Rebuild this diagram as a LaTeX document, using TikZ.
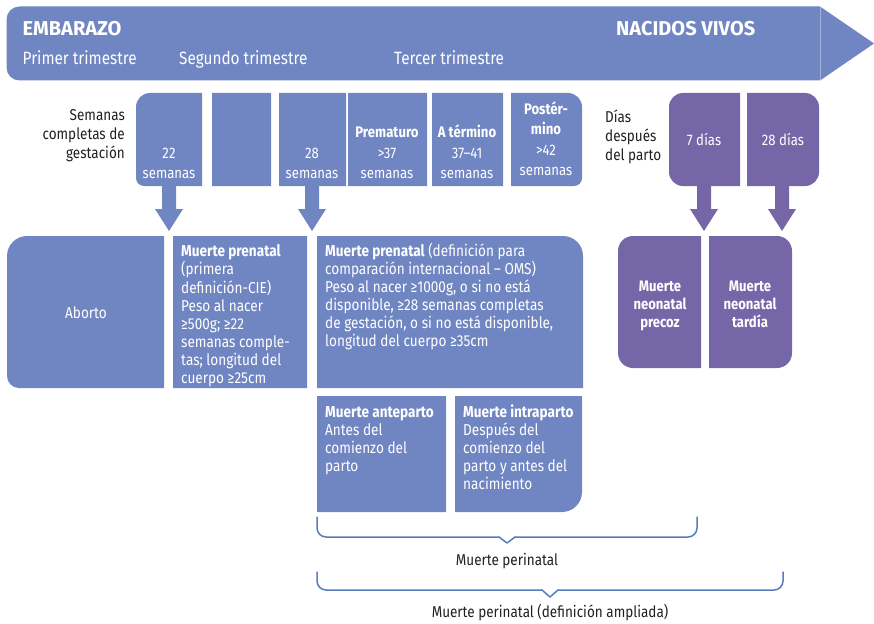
\documentclass[tikz,border=0pt]{standalone}
\usepackage{fontspec}
\setmainfont[FakeStretch=0.86]{Fira Sans}
\newfontfamily\firawide{Fira Sans}
\definecolor{bl}{RGB}{112,134,194}
\definecolor{pu}{RGB}{117,102,167}
\definecolor{brc}{RGB}{88,124,192}
\definecolor{tx}{RGB}{35,31,32}
\newcommand\lft[1]{\begin{tabular}[t]{@{}l@{}}#1\end{tabular}}
\newcommand\ctr[1]{\begin{tabular}[t]{@{}c@{}}#1\end{tabular}}
\newcommand\rgt[1]{\begin{tabular}[t]{@{}r@{}}#1\end{tabular}}
% colour, x0, y0, x1, y1, rTL, rTR, rBR, rBL
\newcommand\rbx[9]{\fill[#1] (#2,{#3+#6}) .. controls (#2,{#3+0.448*#6}) and ({#2+0.448*#6},#3) .. ({#2+#6},#3) -- ({#4-#7},#3) .. controls ({#4-0.448*#7},#3) and (#4,{#3+0.448*#7}) .. (#4,{#3+#7}) -- (#4,{#5-#8}) .. controls (#4,{#5-0.448*#8}) and ({#4-0.448*#8},#5) .. ({#4-#8},#5) -- ({#2+#9},#5) .. controls ({#2+0.448*#9},#5) and (#2,{#5-0.448*#9}) .. (#2,{#5-#9}) -- cycle;}
% colour, cx, ytop, yhead, ytip
\newcommand\barrow[5]{\fill[#1] ({#2-7},#3) -- ({#2+7},#3) -- ({#2+7},#4) -- ({#2+14},#4) -- (#2,#5) -- ({#2-14},#4) -- ({#2-7},#4) -- cycle;}
\begin{document}
\begin{tikzpicture}[x=1pt,y=-1pt,
  wt/.style={text=white, inner sep=0pt, font=\fontsize{15.8}{18}\selectfont},
  wt2/.style={text=white, inner sep=0pt, font=\fontsize{15.3}{20}\selectfont},
  ban/.style={text=white, inner sep=0pt, font=\fontsize{17.8}{20}\selectfont},
  banb/.style={text=white, inner sep=0pt, font=\firawide\bfseries\fontsize{20}{22}\selectfont},
  dk/.style={text=tx, inner sep=0pt, font=\fontsize{15.7}{19}\selectfont},
  brace/.style={draw=brc, line width=1.5pt, line cap=round, line join=round}]
\useasboundingbox (0,0) rectangle (874,623);
% banner
\rbx{bl}{6.5}{6.5}{820}{80.5}{13}{0}{0}{13}
\fill[bl] (820,6.5) -- (874,43.5) -- (820,80.5) -- cycle;
\draw[white, opacity=.35, line width=0.8pt] (820,6.5) -- (820,80.5);
\node[banb, anchor=base west] (emb) at (22.5,35.7) {EMBARAZO};
\node[banb, anchor=base west] (nac) at (616,35.7) {NACIDOS VIVOS};
\node[ban, anchor=base west] (t1) at (22.5,65) {Primer trimestre};
\node[ban, anchor=base west] (t2) at (179,65) {Segundo trimestre};
\node[ban, anchor=base west] (t3) at (394,65) {Tercer trimestre};
% row 2 boxes
\rbx{bl}{136}{93}{202}{186}{14}{0}{0}{8}
\rbx{bl}{212}{93}{271}{186}{0}{0}{0}{0}
\rbx{bl}{279}{93}{346}{186}{0}{0}{0}{0}
\rbx{bl}{348}{93}{427}{186}{0}{0}{0}{0}
\rbx{bl}{432}{93}{503}{186}{0}{0}{0}{0}
\rbx{bl}{511}{93}{582}{186}{0}{14}{8}{0}
\rbx{pu}{669}{93}{740}{186}{14}{0}{0}{14}
\rbx{pu}{747}{93}{819}{186}{0}{14}{14}{0}
\node[dk, anchor=base east] (sem) at (125,121) {\rgt{Semanas\\completas de\\gestación}};
\node[dk, anchor=base west] (dias) at (605,122) {\lft{Días\\después\\del parto}};
\node[wt2, anchor=base] (w22) at (169,158) {\ctr{22\\semanas}};
\node[wt2, anchor=base] (w28) at (312,158) {\ctr{28\\semanas}};
\node[wt2, anchor=base] (pre) at (387,137) {\ctr{\textbf{Prematuro}\\[1pt]>37\\semanas}};
\node[wt2, anchor=base] (ate) at (467,137) {\ctr{\textbf{A término}\\[1pt]37–41\\semanas}};
\node[wt2, anchor=base] (pos) at (546,114) {\ctr{\textbf{Postér-}\\\textbf{mino}\\[1pt]>42\\semanas}};
\node[wt2, anchor=base] (d7) at (704,145) {7 días};
\node[wt2, anchor=base] (d28) at (783,145) {28 días};
% arrows
\barrow{bl}{169}{185}{209}{231}
\barrow{bl}{312}{185}{209}{231}
\barrow{pu}{704}{185}{209}{231}
\barrow{pu}{782}{185}{209}{231}
% row 3
\rbx{bl}{7}{236}{164}{388}{20}{0}{0}{12}
\rbx{bl}{173}{236}{307}{388}{0}{0}{0}{0}
\rbx{bl}{317}{236}{583}{388}{0}{20}{0}{0}
\rbx{bl}{317}{396}{446}{512}{0}{0}{0}{0}
\rbx{bl}{455}{396}{582}{512}{0}{0}{20}{0}
\rbx{pu}{618}{236}{701}{368}{15}{0}{0}{15}
\rbx{pu}{709}{236}{792}{368}{0}{15}{15}{0}
\node[wt, anchor=base] (abo) at (86,318) {Aborto};
\node[wt, anchor=base west] (cie) at (181,256) {\lft{\textbf{Muerte prenatal}\\(primera\\definición-CIE)\\Peso al nacer\\≥500g; ≥22\\semanas comple-\\tas; longitud del\\cuerpo ≥25cm}};
\node[wt, anchor=base west] (oms) at (325,256) {\lft{\textbf{Muerte prenatal} (definición para\\comparación internacional – OMS)\\Peso al nacer ≥1000g, o si no está\\disponible, ≥28 semanas completas\\de gestación, o si no está disponible,\\longitud del cuerpo ≥35cm}};
\node[wt, anchor=base west] (ant) at (325,417) {\lft{\textbf{Muerte anteparto}\\Antes del\\comienzo del\\parto}};
\node[wt, anchor=base west] (int) at (463,417) {\lft{\textbf{Muerte intraparto}\\Después del\\comienzo del\\parto y antes del\\nacimiento}};
\node[wt, anchor=base, font=\bfseries\fontsize{15.2}{18}\selectfont] (npr) at (660,291) {\ctr{Muerte\\neonatal\\precoz}};
\node[wt, anchor=base, font=\bfseries\fontsize{15.2}{18}\selectfont] (nta) at (750,291) {\ctr{Muerte\\neonatal\\tardía}};
% braces
\draw[brace, rounded corners=9pt] (317,517) |- (499,537);
\draw[brace] (499,537) -- (507,543) -- (515,537);
\draw[brace, rounded corners=9pt] (515,537) -| (697,517);
\node[dk, anchor=base] (mp) at (507,565) {Muerte perinatal};
\draw[brace, rounded corners=9pt] (317,572) |- (542,590);
\draw[brace] (542,590) -- (550,597) -- (558,590);
\draw[brace, rounded corners=9pt] (558,590) -| (783,572);
\node[dk, anchor=base] (mpa) at (550,617) {Muerte perinatal (definición ampliada)};
\end{tikzpicture}
\end{document}
